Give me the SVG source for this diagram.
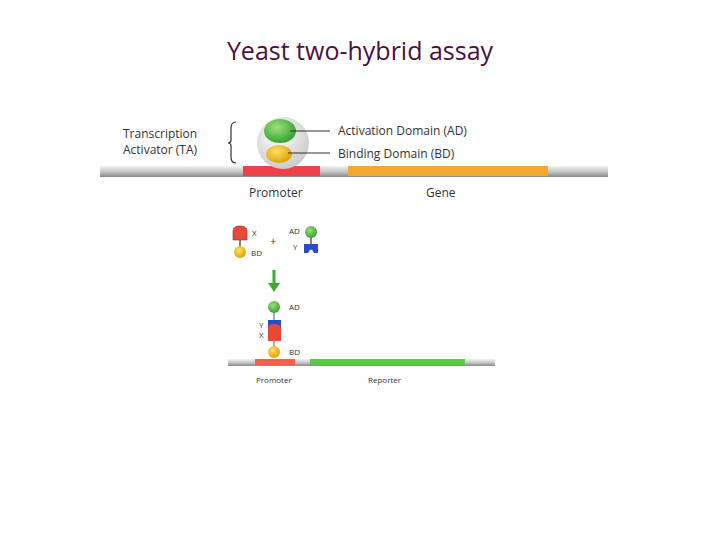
<svg xmlns="http://www.w3.org/2000/svg" width="720" height="540" viewBox="0 0 720 540">
<style>
.t{font-family:"Open Sans","Liberation Sans",sans-serif;fill:#333}
.s{font-size:12px}.xs{font-size:8px}
.ln{stroke:#333;stroke-width:1.2;fill:none}
</style>
<defs>
<linearGradient id="gb" x1="0" y1="0" x2="0" y2="1"><stop offset="0" stop-color="#f2f2f2"/><stop offset="0.5" stop-color="#c8c8c8"/><stop offset="1" stop-color="#888"/></linearGradient>
<radialGradient id="gc" cx="0.4" cy="0.35" r="0.7"><stop offset="0" stop-color="#fff"/><stop offset="1" stop-color="#c8c8c8"/></radialGradient>
<radialGradient id="gg" cx="0.4" cy="0.35" r="0.7"><stop offset="0" stop-color="#9de07a"/><stop offset="1" stop-color="#2e9e2e"/></radialGradient>
<radialGradient id="gy" cx="0.4" cy="0.35" r="0.7"><stop offset="0" stop-color="#ffe066"/><stop offset="1" stop-color="#d9a000"/></radialGradient>
</defs>
<rect width="720" height="540" fill="#fff"/>
<text x="360" y="60" text-anchor="middle" font-family="Open Sans,Liberation Sans,sans-serif" font-size="25" fill="#4a1040">Yeast two-hybrid assay</text>
<g id="top-dna">
<rect x="100" y="166" width="508" height="11" fill="url(#gb)"/>
<rect x="243" y="166" width="77" height="10" fill="#f0404a"/>
<rect x="348" y="166" width="200" height="10" fill="#f5a830"/>
</g>
<g id="ta">
<circle cx="283" cy="143" r="26" fill="url(#gc)"/>
<ellipse cx="280" cy="131" rx="16" ry="12" fill="url(#gg)"/>
<ellipse cx="279" cy="154" rx="13" ry="9" fill="url(#gy)"/>
</g>
<g id="connectors">
<line class="ln" x1="290" y1="131" x2="330" y2="131"/>
<line class="ln" x1="288" y1="153" x2="330" y2="153"/>
<path class="ln" d="M236 122 Q231 122 231 128 V140 Q231 143 228 143 Q231 143 231 146 V157 Q231 163 236 163"/>
<line x1="274" y1="270" x2="274" y2="284" stroke="#3aaa35" stroke-width="3"/>
<path d="M268 283 L280 283 L274 292 Z" fill="#3aaa35"/>
</g>
<g id="labels">
<text class="t s" x="123" y="138">Transcription</text>
<text class="t s" x="123" y="154">Activator (TA)</text>
<text class="t s" x="338" y="135">Activation Domain (AD)</text>
<text class="t s" x="338" y="158">Binding Domain (BD)</text>
<text class="t s" x="249" y="197">Promoter</text>
<text class="t s" x="426" y="197">Gene</text>
</g>
<g id="x-bd">
<line class="ln" x1="240" y1="240" x2="240" y2="247" stroke="#888"/>
<path d="M233 240 V231 Q233 226 240 226 Q247 226 247 231 V240 Z" fill="#e84a3a" stroke="#a02020" stroke-width="0.6"/>
<circle cx="240" cy="252" r="6" fill="url(#gy)"/>
<text class="t xs" x="252" y="236">X</text>
<text class="t xs" x="251" y="256">BD</text>
<text class="t" x="270" y="245" font-size="11" fill="#666">+</text>
</g>
<g id="ad-y">
<line class="ln" x1="311" y1="236" x2="311" y2="244" stroke="#888"/>
<circle cx="311" cy="232" r="6" fill="url(#gg)"/>
<path d="M304 244 H318 V253 H314 Q311 246 308 253 H304 Z" fill="#2a4cc8"/>
<text class="t xs" x="289" y="234">AD</text>
<text class="t xs" x="293" y="250">Y</text>
</g>
<g id="complex">
<line x1="274" y1="310" x2="274" y2="348" stroke="#555" stroke-width="1"/>
<circle cx="274" cy="307" r="6" fill="url(#gg)"/>
<rect x="268" y="320" width="13" height="10" fill="#2a4cc8"/>
<path d="M268 341 V329 Q268 324 274 324 Q281 324 281 329 V341 Z" fill="#e84a3a"/>
<circle cx="274" cy="352" r="6" fill="url(#gy)"/>
<text class="t xs" x="289" y="310">AD</text>
<text class="t xs" x="259" y="328">Y</text>
<text class="t xs" x="259" y="338">X</text>
<text class="t xs" x="289" y="355">BD</text>
</g>
<g id="bottom-dna">
<rect x="228" y="359" width="267" height="7" fill="url(#gb)"/>
<rect x="255" y="359" width="40" height="6" fill="#f0604a"/>
<rect x="310" y="359" width="155" height="6" fill="#5cc84a"/>
<text class="t xs" x="256" y="383">Promoter</text>
<text class="t xs" x="368" y="383">Reporter</text>
</g>
</svg>
